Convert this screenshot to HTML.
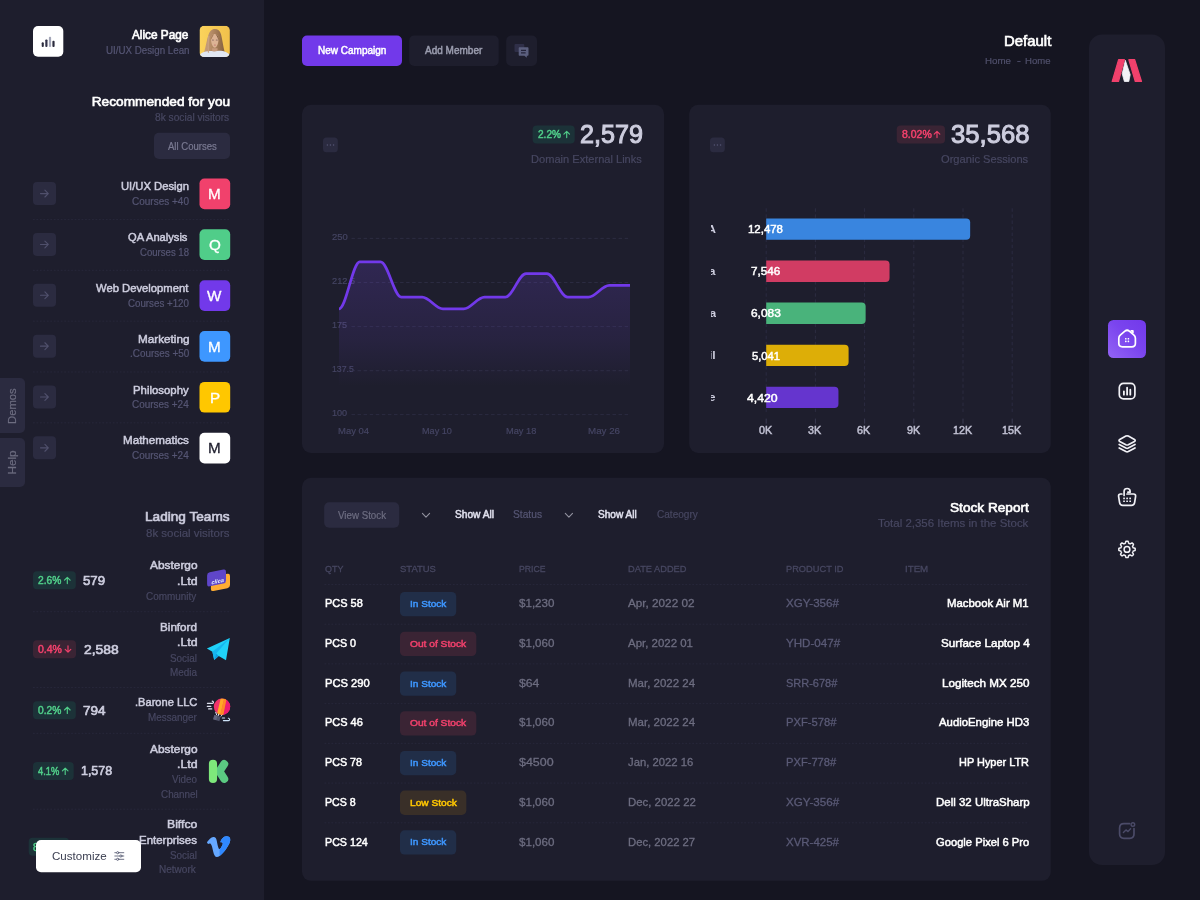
<!DOCTYPE html>
<html lang="en" dir="ltr">
<head>
<meta charset="utf-8">
<title>Dashboard</title>
<style>
html,body{margin:0;padding:0}
body{width:1200px;height:900px;background:#151521;position:relative;overflow:hidden;font-family:"Liberation Sans",sans-serif;}
.t{position:absolute;white-space:nowrap;line-height:1;transform-origin:0 50%;}
.a{position:absolute;}
svg{position:absolute;overflow:visible}
svg.f{left:0;top:0;pointer-events:none}
.sep{position:absolute;height:0;border-top:1px dashed #2b2b40;}
</style>
</head>
<body>

<main id="content">
<header id="toolbar">
<svg class="f" width="1200" height="900" viewBox="0 0 1200 900"><rect x="302" y="35.6" width="100" height="30.4" rx="5" fill="#7239ea"/></svg>
<div class="t" style="left:317.50px;top:44px;line-height:12px;font-size:10.5px;color:#ffffff;transform:scaleX(0.9521);-webkit-text-stroke:0.5px;">New Campaign</div>
<svg class="f" width="1200" height="900" viewBox="0 0 1200 900"><rect x="409.2" y="35.6" width="89.5" height="30.4" rx="5" fill="#1e1e2d"/></svg>
<div class="t" style="left:425.00px;top:44px;line-height:12px;font-size:10.5px;color:#9a9cae;transform:scaleX(0.9536);-webkit-text-stroke:0.5px;">Add Member</div>
<svg class="f" width="1200" height="900" viewBox="0 0 1200 900"><rect x="506.2" y="35.6" width="30.8" height="30.4" rx="5" fill="#1e1e2d"/><g transform="translate(514 43.2)"><rect x="0.5" y="0.8" width="9.8" height="8" rx="1" fill="#2f2f48"/><path d="M5.7 4.1H13.5C14.1 4.1 14.5 4.5 14.5 5.1V11.5C14.5 12.1 14.1 12.5 13.5 12.5H12.8V14.6L10.4 12.5H5.7C5.1 12.5 4.7 12.1 4.7 11.5V5.1C4.7 4.5 5.1 4.1 5.7 4.1Z" fill="#5b5f7e"/><path d="M7 7.1H12M7 9.7H11.6" stroke="#24243a" stroke-width="1.25" stroke-linecap="butt"/></g></svg>
<div class="t" style="left:1003.88px;top:33px;line-height:16px;font-size:14.6px;color:#ffffff;transform:scaleX(1.0225);-webkit-text-stroke:0.65px;">Default</div>
<div class="t" style="left:984.80px;top:55px;line-height:11px;font-size:9.9px;color:#50506c;transform:scaleX(0.9833);-webkit-text-stroke:0.2px;">Home</div>
<div class="t" style="left:1016.50px;top:55px;line-height:11px;font-size:9.9px;color:#50506c;transform:scaleX(1.1667);-webkit-text-stroke:0.2px;">-</div>
<div class="t" style="left:1025.00px;top:55px;line-height:11px;font-size:9.9px;color:#50506c;transform:scaleX(0.9684);-webkit-text-stroke:0.2px;">Home</div>
</header>
<section id="card-links">
<svg class="f" width="1200" height="900" viewBox="0 0 1200 900"><rect x="302" y="104.8" width="362" height="348.2" rx="9" fill="#1e1e2d"/><rect x="323" y="137.5" width="14.8" height="14.8" rx="3.5" fill="#2b2b40"/><rect x="326.6" y="144.2" width="1.5" height="1.5" rx="1" fill="#565674"/><rect x="329.7" y="144.2" width="1.5" height="1.5" rx="1" fill="#565674"/><rect x="332.8" y="144.2" width="1.5" height="1.5" rx="1" fill="#565674"/><rect x="532.6" y="125.5" width="42.1" height="18" rx="4" fill="#1c3238"/></svg>
<div class="t" style="left:537.50px;top:129px;line-height:11px;font-size:10.4px;color:#50cd89;transform:scaleX(0.9682);-webkit-text-stroke:0.5px;">2.2%</div>
<svg class="f" width="1200" height="900" viewBox="0 0 1200 900"><g transform="translate(563.2 130.5)"><g ><path d="M3.5 7.1V0.9M0.7 3.6L3.5 0.8L6.3 3.6" fill="none" stroke="#50cd89" stroke-width="1.15" stroke-linecap="round" stroke-linejoin="round"/></g></g></svg>
<div class="t" style="left:579.84px;top:119px;line-height:30px;font-size:26.2px;color:#cdcdde;transform:scaleX(0.9598);-webkit-text-stroke:1.05px;">2,579</div>
<div class="t" style="left:530.50px;top:153px;line-height:12px;font-size:11.31px;color:#474761;transform:scaleX(0.9809);-webkit-text-stroke:0.2px;">Domain External Links</div>
<div class="t" style="left:331.80px;top:231px;line-height:11px;font-size:9.7px;color:#454563;transform:scaleX(0.9776);-webkit-text-stroke:0.2px;">250</div>
<div class="t" style="left:331.80px;top:275px;line-height:11px;font-size:9.7px;color:#454563;transform:scaleX(0.9516);-webkit-text-stroke:0.2px;">212.5</div>
<div class="t" style="left:331.80px;top:319px;line-height:11px;font-size:9.7px;color:#454563;transform:scaleX(0.9318);-webkit-text-stroke:0.2px;">175</div>
<div class="t" style="left:331.80px;top:363px;line-height:11px;font-size:9.7px;color:#454563;transform:scaleX(0.9013);-webkit-text-stroke:0.2px;">137.5</div>
<div class="t" style="left:331.80px;top:407px;line-height:11px;font-size:9.7px;color:#454563;transform:scaleX(0.9359);-webkit-text-stroke:0.2px;">100</div>
<svg class="f" width="1200" height="900" viewBox="0 0 1200 900"><defs><linearGradient id="g1" x1="0" y1="262" x2="0" y2="414" gradientUnits="userSpaceOnUse"><stop offset="0" stop-color="#7c4df0" stop-opacity="0.19"/><stop offset="0.5" stop-color="#7c4df0" stop-opacity="0.10"/><stop offset="0.82" stop-color="#7c4df0" stop-opacity="0"/></linearGradient></defs><line x1="351.5" y1="238.4" x2="630" y2="238.4" stroke="#2f2f47" stroke-width="0.87" stroke-opacity="0.9" stroke-dasharray="3.47 2.6"/><line x1="351.5" y1="282.5" x2="630" y2="282.5" stroke="#2f2f47" stroke-width="0.87" stroke-opacity="0.9" stroke-dasharray="3.47 2.6"/><line x1="351.5" y1="326.6" x2="630" y2="326.6" stroke="#2f2f47" stroke-width="0.87" stroke-opacity="0.9" stroke-dasharray="3.47 2.6"/><line x1="351.5" y1="370.7" x2="630" y2="370.7" stroke="#2f2f47" stroke-width="0.87" stroke-opacity="0.9" stroke-dasharray="3.47 2.6"/><line x1="351.5" y1="414.6" x2="630" y2="414.6" stroke="#2f2f47" stroke-width="0.87" stroke-opacity="0.9" stroke-dasharray="3.47 2.6"/><path d="M339.00 308.88C346.27 308.88 352.51 261.89 359.79 261.89C367.06 261.89 373.30 261.89 380.57 261.89C387.85 261.89 394.08 297.13 401.36 297.13C408.63 297.13 414.87 297.13 422.14 297.13C429.42 297.13 435.65 308.88 442.93 308.88C450.20 308.88 456.44 308.88 463.71 308.88C470.99 308.88 477.23 297.13 484.50 297.13C491.77 297.13 498.01 297.13 505.29 297.13C512.56 297.13 518.80 273.64 526.07 273.64C533.35 273.64 539.58 273.64 546.86 273.64C554.13 273.64 560.37 297.13 567.64 297.13C574.92 297.13 581.15 297.13 588.43 297.13C595.70 297.13 601.94 285.39 609.21 285.39C616.49 285.39 622.73 285.39 630.00 285.39L630.00 414.6L339.00 414.6Z" fill="url(#g1)"/><path d="M339.00 308.88C346.27 308.88 352.51 261.89 359.79 261.89C367.06 261.89 373.30 261.89 380.57 261.89C387.85 261.89 394.08 297.13 401.36 297.13C408.63 297.13 414.87 297.13 422.14 297.13C429.42 297.13 435.65 308.88 442.93 308.88C450.20 308.88 456.44 308.88 463.71 308.88C470.99 308.88 477.23 297.13 484.50 297.13C491.77 297.13 498.01 297.13 505.29 297.13C512.56 297.13 518.80 273.64 526.07 273.64C533.35 273.64 539.58 273.64 546.86 273.64C554.13 273.64 560.37 297.13 567.64 297.13C574.92 297.13 581.15 297.13 588.43 297.13C595.70 297.13 601.94 285.39 609.21 285.39C616.49 285.39 622.73 285.39 630.00 285.39" fill="none" stroke="#7239ea" stroke-width="2.7" stroke-linecap="butt"/></svg>
<div class="t" style="left:338.30px;top:425px;line-height:11px;font-size:9.7px;color:#454563;transform:scaleX(0.9790);-webkit-text-stroke:0.2px;">May 04</div>
<div class="t" style="left:422.30px;top:425px;line-height:11px;font-size:9.7px;color:#454563;transform:scaleX(0.9388);-webkit-text-stroke:0.2px;">May 10</div>
<div class="t" style="left:505.70px;top:425px;line-height:11px;font-size:9.7px;color:#454563;transform:scaleX(0.9560);-webkit-text-stroke:0.2px;">May 18</div>
<div class="t" style="left:587.70px;top:425px;line-height:11px;font-size:9.7px;color:#454563;transform:scaleX(1.0070);-webkit-text-stroke:0.2px;">May 26</div>
</section>
<section id="card-sessions">
<svg class="f" width="1200" height="900" viewBox="0 0 1200 900"><rect x="689.2" y="104.8" width="361.6" height="348.2" rx="9" fill="#1e1e2d"/><rect x="710" y="137.5" width="14.8" height="14.8" rx="3.5" fill="#2b2b40"/><rect x="713.6" y="144.2" width="1.5" height="1.5" rx="1" fill="#565674"/><rect x="716.7" y="144.2" width="1.5" height="1.5" rx="1" fill="#565674"/><rect x="719.8" y="144.2" width="1.5" height="1.5" rx="1" fill="#565674"/><rect x="896.7" y="125.5" width="48.3" height="18" rx="4" fill="#3a2434"/></svg>
<div class="t" style="left:901.70px;top:129px;line-height:11px;font-size:10.4px;color:#f1416c;transform:scaleX(1.0095);-webkit-text-stroke:0.5px;">8.02%</div>
<svg class="f" width="1200" height="900" viewBox="0 0 1200 900"><g transform="translate(933.5 130.5)"><g ><path d="M3.5 7.1V0.9M0.7 3.6L3.5 0.8L6.3 3.6" fill="none" stroke="#f1416c" stroke-width="1.15" stroke-linecap="round" stroke-linejoin="round"/></g></g></svg>
<div class="t" style="left:950.62px;top:119px;line-height:30px;font-size:26.2px;color:#cdcdde;transform:scaleX(0.9805);-webkit-text-stroke:1.05px;">35,568</div>
<div class="t" style="left:941.30px;top:153px;line-height:12px;font-size:11.31px;color:#474761;transform:scaleX(0.9844);-webkit-text-stroke:0.2px;">Organic Sessions</div>
<svg class="f" width="1200" height="900" viewBox="0 0 1200 900"><line x1="766.2" y1="208.3" x2="766.2" y2="414.5" stroke="#2f2f47" stroke-width="0.87" stroke-opacity="0.9" stroke-dasharray="3.47 2.6"/><line x1="766.2" y1="418.6" x2="766.2" y2="423.7" stroke="#3a3a52" stroke-width="1"/><line x1="815.4" y1="208.3" x2="815.4" y2="414.5" stroke="#2f2f47" stroke-width="0.87" stroke-opacity="0.9" stroke-dasharray="3.47 2.6"/><line x1="815.4" y1="418.6" x2="815.4" y2="423.7" stroke="#3a3a52" stroke-width="1"/><line x1="864.6" y1="208.3" x2="864.6" y2="414.5" stroke="#2f2f47" stroke-width="0.87" stroke-opacity="0.9" stroke-dasharray="3.47 2.6"/><line x1="864.6" y1="418.6" x2="864.6" y2="423.7" stroke="#3a3a52" stroke-width="1"/><line x1="913.8" y1="208.3" x2="913.8" y2="414.5" stroke="#2f2f47" stroke-width="0.87" stroke-opacity="0.9" stroke-dasharray="3.47 2.6"/><line x1="913.8" y1="418.6" x2="913.8" y2="423.7" stroke="#3a3a52" stroke-width="1"/><line x1="963.0" y1="208.3" x2="963.0" y2="414.5" stroke="#2f2f47" stroke-width="0.87" stroke-opacity="0.9" stroke-dasharray="3.47 2.6"/><line x1="963.0" y1="418.6" x2="963.0" y2="423.7" stroke="#3a3a52" stroke-width="1"/><line x1="1012.2" y1="208.3" x2="1012.2" y2="414.5" stroke="#2f2f47" stroke-width="0.87" stroke-opacity="0.9" stroke-dasharray="3.47 2.6"/><line x1="1012.2" y1="418.6" x2="1012.2" y2="423.7" stroke="#3a3a52" stroke-width="1"/><path d="M766.2 218.40h199.97a4 4 0 0 1 4 4v13.40a4 4 0 0 1 -4 4h-199.97z" fill="#3985df"/><path d="M766.2 260.48h119.35a4 4 0 0 1 4 4v13.40a4 4 0 0 1 -4 4h-119.35z" fill="#d13c63"/><path d="M766.2 302.56h95.44a4 4 0 0 1 4 4v13.40a4 4 0 0 1 -4 4h-95.44z" fill="#49b37b"/><path d="M766.2 344.64h78.40a4 4 0 0 1 4 4v13.40a4 4 0 0 1 -4 4h-78.40z" fill="#ddae07"/><path d="M766.2 386.72h68.25a4 4 0 0 1 4 4v13.40a4 4 0 0 1 -4 4h-68.25z" fill="#6535ce"/></svg>
<div class="t" style="left:748.30px;top:223px;line-height:12px;font-size:11.6px;color:#ffffff;transform:scaleX(0.9854);-webkit-text-stroke:0.5px;">12,478</div>
<div class="a" style="left:710.5px;top:221.4px;width:5.6px;height:16px;overflow:hidden"><div class="t" style="right:0.3px;top:2.5px;font-size:11.4px;font-weight:700;color:#cdcdde;transform-origin:100% 50%;transform:scaleX(1.06)">USA</div></div>
<div class="t" style="left:751.00px;top:265px;line-height:12px;font-size:11.6px;color:#ffffff;transform:scaleX(1.0047);-webkit-text-stroke:0.5px;">7,546</div>
<div class="a" style="left:710.5px;top:263.5px;width:5.6px;height:16px;overflow:hidden"><div class="t" style="right:0.3px;top:2.5px;font-size:11.4px;font-weight:700;color:#cdcdde;transform-origin:100% 50%;transform:scaleX(1.06)">India</div></div>
<div class="t" style="left:750.70px;top:307px;line-height:12px;font-size:11.6px;color:#ffffff;transform:scaleX(1.0257);-webkit-text-stroke:0.5px;">6,083</div>
<div class="a" style="left:710.5px;top:305.6px;width:5.6px;height:16px;overflow:hidden"><div class="t" style="right:0.3px;top:2.5px;font-size:11.4px;font-weight:700;color:#cdcdde;transform-origin:100% 50%;transform:scaleX(1.06)">Canada</div></div>
<div class="t" style="left:751.70px;top:350px;line-height:12px;font-size:11.6px;color:#ffffff;transform:scaleX(0.9662);-webkit-text-stroke:0.5px;">5,041</div>
<div class="a" style="left:710.5px;top:347.6px;width:5.6px;height:16px;overflow:hidden"><div class="t" style="right:0.3px;top:2.5px;font-size:11.4px;font-weight:700;color:#cdcdde;transform-origin:100% 50%;transform:scaleX(1.06)">Brasil</div></div>
<div class="t" style="left:747.10px;top:392px;line-height:12px;font-size:11.6px;color:#ffffff;transform:scaleX(1.0572);-webkit-text-stroke:0.5px;">4,420</div>
<div class="a" style="left:710.5px;top:389.7px;width:5.6px;height:16px;overflow:hidden"><div class="t" style="right:0.3px;top:2.5px;font-size:11.4px;font-weight:700;color:#cdcdde;transform-origin:100% 50%;transform:scaleX(1.06)">France</div></div>
<div class="t" style="left:759.07px;top:424px;line-height:12px;font-size:11.2px;color:#c0c0d2;transform:scaleX(0.9600);-webkit-text-stroke:0.5px;">0K</div>
<div class="t" style="left:808.27px;top:424px;line-height:12px;font-size:11.2px;color:#c0c0d2;transform:scaleX(0.9600);-webkit-text-stroke:0.5px;">3K</div>
<div class="t" style="left:857.47px;top:424px;line-height:12px;font-size:11.2px;color:#c0c0d2;transform:scaleX(0.9600);-webkit-text-stroke:0.5px;">6K</div>
<div class="t" style="left:906.67px;top:424px;line-height:12px;font-size:11.2px;color:#c0c0d2;transform:scaleX(0.9600);-webkit-text-stroke:0.5px;">9K</div>
<div class="t" style="left:952.89px;top:424px;line-height:12px;font-size:11.2px;color:#c0c0d2;transform:scaleX(0.9600);-webkit-text-stroke:0.5px;">12K</div>
<div class="t" style="left:1002.09px;top:424px;line-height:12px;font-size:11.2px;color:#c0c0d2;transform:scaleX(0.9600);-webkit-text-stroke:0.5px;">15K</div>
</section>
<section id="card-stock">
<svg class="f" width="1200" height="900" viewBox="0 0 1200 900"><rect x="302" y="477.8" width="748.8" height="403" rx="9" fill="#1e1e2d"/><rect x="324.2" y="502.2" width="75" height="25.6" rx="5" fill="#2b2b40"/></svg>
<div class="t" style="left:337.50px;top:510px;line-height:11px;font-size:10.4px;color:#6d6d80;transform:scaleX(0.9382);-webkit-text-stroke:0.2px;">View Stock</div>
<svg class="f" width="1200" height="900" viewBox="0 0 1200 900"><g transform="translate(421.8 512.6)"><path d="M0.6 0.8L4.2 4.5L7.8 0.8" fill="none" stroke="#92929f" stroke-width="1.1" stroke-linecap="round" stroke-linejoin="round"/></g></svg>
<div class="t" style="left:454.70px;top:509px;line-height:11px;font-size:10.4px;color:#e1e1ee;transform:scaleX(0.9771);-webkit-text-stroke:0.5px;">Show All</div>
<div class="t" style="left:513.30px;top:509px;line-height:11px;font-size:10.4px;color:#565674;transform:scaleX(0.9842);-webkit-text-stroke:0.2px;">Status</div>
<svg class="f" width="1200" height="900" viewBox="0 0 1200 900"><g transform="translate(564.7 512.6)"><path d="M0.6 0.8L4.2 4.5L7.8 0.8" fill="none" stroke="#92929f" stroke-width="1.1" stroke-linecap="round" stroke-linejoin="round"/></g></svg>
<div class="t" style="left:597.90px;top:509px;line-height:11px;font-size:10.4px;color:#e1e1ee;transform:scaleX(0.9696);-webkit-text-stroke:0.5px;">Show All</div>
<div class="t" style="left:656.50px;top:509px;line-height:11px;font-size:10.4px;color:#474761;transform:scaleX(0.9682);-webkit-text-stroke:0.2px;">Cateogry</div>
<div class="t" style="left:950.00px;top:500px;line-height:15px;font-size:13.7px;color:#ffffff;transform:scaleX(0.9960);-webkit-text-stroke:0.65px;">Stock Report</div>
<div class="t" style="left:878.30px;top:517px;line-height:12px;font-size:11.31px;color:#474761;transform:scaleX(1.0145);-webkit-text-stroke:0.2px;">Total 2,356 Items in the Stock</div>
<div class="t" style="left:324.50px;top:563px;line-height:11px;font-size:9.9px;color:#474761;transform:scaleX(0.9076);-webkit-text-stroke:0.3px;">QTY</div>
<div class="t" style="left:400.00px;top:563px;line-height:11px;font-size:9.9px;color:#474761;transform:scaleX(0.9578);-webkit-text-stroke:0.3px;">STATUS</div>
<div class="t" style="left:518.90px;top:563px;line-height:11px;font-size:9.9px;color:#474761;transform:scaleX(0.8793);-webkit-text-stroke:0.3px;">PRICE</div>
<div class="t" style="left:627.80px;top:563px;line-height:11px;font-size:9.9px;color:#474761;transform:scaleX(0.9366);-webkit-text-stroke:0.3px;">DATE ADDED</div>
<div class="t" style="left:786.30px;top:563px;line-height:11px;font-size:9.9px;color:#474761;transform:scaleX(0.9378);-webkit-text-stroke:0.3px;">PRODUCT ID</div>
<div class="t" style="left:904.50px;top:563px;line-height:11px;font-size:9.9px;color:#474761;transform:scaleX(0.9845);-webkit-text-stroke:0.3px;">ITEM</div>
<svg class="f" width="1200" height="900" viewBox="0 0 1200 900"><line x1="324.5" y1="584.5" x2="1029" y2="584.5" stroke="#2b2b40" stroke-width="0.9" stroke-opacity="0.75" stroke-dasharray="1.75 1.72"/></svg>
<div class="t" style="left:324.50px;top:597px;line-height:12px;font-size:11.31px;color:#ffffff;transform:scaleX(0.9703);-webkit-text-stroke:0.5px;">PCS 58</div>
<svg class="f" width="1200" height="900" viewBox="0 0 1200 900"><rect x="400" y="592" width="56.2" height="24.3" rx="4.5" fill="#212e48"/></svg>
<div class="t" style="left:409.70px;top:598px;line-height:11px;font-size:9.7px;color:#3e97ff;transform:scaleX(1.0383);-webkit-text-stroke:0.5px;">In Stock</div>
<div class="t" style="left:518.90px;top:597px;line-height:12px;font-size:11.2px;color:#6d6d80;transform:scaleX(1.0354);-webkit-text-stroke:0.3px;">$1,230</div>
<div class="t" style="left:627.80px;top:597px;line-height:12px;font-size:11.2px;color:#6d6d80;transform:scaleX(1.0470);-webkit-text-stroke:0.3px;">Apr, 2022 02</div>
<div class="t" style="left:786.30px;top:597px;line-height:12px;font-size:11.2px;color:#5a5a76;transform:scaleX(1.0329);-webkit-text-stroke:0.3px;">XGY-356#</div>
<div class="t" style="left:947.00px;top:597px;line-height:12px;font-size:11.31px;color:#ffffff;transform:scaleX(1.0082);-webkit-text-stroke:0.5px;">Macbook Air M1</div>
<svg class="f" width="1200" height="900" viewBox="0 0 1200 900"><line x1="324.5" y1="624.2" x2="1029" y2="624.2" stroke="#2b2b40" stroke-width="0.9" stroke-opacity="0.75" stroke-dasharray="1.75 1.72"/></svg>
<div class="t" style="left:324.50px;top:637px;line-height:12px;font-size:11.31px;color:#ffffff;transform:scaleX(0.9516);-webkit-text-stroke:0.5px;">PCS 0</div>
<svg class="f" width="1200" height="900" viewBox="0 0 1200 900"><rect x="400" y="631.72" width="76.3" height="24.3" rx="4.5" fill="#3a2434"/></svg>
<div class="t" style="left:410.00px;top:638px;line-height:11px;font-size:9.7px;color:#f1416c;transform:scaleX(1.0531);-webkit-text-stroke:0.5px;">Out of Stock</div>
<div class="t" style="left:518.90px;top:637px;line-height:12px;font-size:11.2px;color:#6d6d80;transform:scaleX(1.0354);-webkit-text-stroke:0.3px;">$1,060</div>
<div class="t" style="left:627.80px;top:637px;line-height:12px;font-size:11.2px;color:#6d6d80;transform:scaleX(1.0233);-webkit-text-stroke:0.3px;">Apr, 2022 01</div>
<div class="t" style="left:786.30px;top:637px;line-height:12px;font-size:11.2px;color:#5a5a76;transform:scaleX(1.0375);-webkit-text-stroke:0.3px;">YHD-047#</div>
<div class="t" style="left:940.50px;top:637px;line-height:12px;font-size:11.31px;color:#ffffff;transform:scaleX(1.0319);-webkit-text-stroke:0.5px;">Surface Laptop 4</div>
<svg class="f" width="1200" height="900" viewBox="0 0 1200 900"><line x1="324.5" y1="663.92" x2="1029" y2="663.92" stroke="#2b2b40" stroke-width="0.9" stroke-opacity="0.75" stroke-dasharray="1.75 1.72"/></svg>
<div class="t" style="left:324.50px;top:677px;line-height:12px;font-size:11.31px;color:#ffffff;transform:scaleX(0.9904);-webkit-text-stroke:0.5px;">PCS 290</div>
<svg class="f" width="1200" height="900" viewBox="0 0 1200 900"><rect x="400" y="671.44" width="56.2" height="24.3" rx="4.5" fill="#212e48"/></svg>
<div class="t" style="left:409.70px;top:678px;line-height:11px;font-size:9.7px;color:#3e97ff;transform:scaleX(1.0383);-webkit-text-stroke:0.5px;">In Stock</div>
<div class="t" style="left:518.90px;top:677px;line-height:12px;font-size:11.2px;color:#6d6d80;transform:scaleX(1.0898);-webkit-text-stroke:0.3px;">$64</div>
<div class="t" style="left:627.80px;top:677px;line-height:12px;font-size:11.2px;color:#6d6d80;transform:scaleX(1.0279);-webkit-text-stroke:0.3px;">Mar, 2022 24</div>
<div class="t" style="left:786.30px;top:677px;line-height:12px;font-size:11.2px;color:#5a5a76;transform:scaleX(0.9809);-webkit-text-stroke:0.3px;">SRR-678#</div>
<div class="t" style="left:941.80px;top:677px;line-height:12px;font-size:11.31px;color:#ffffff;transform:scaleX(1.0320);-webkit-text-stroke:0.5px;">Logitech MX 250</div>
<svg class="f" width="1200" height="900" viewBox="0 0 1200 900"><line x1="324.5" y1="703.64" x2="1029" y2="703.64" stroke="#2b2b40" stroke-width="0.9" stroke-opacity="0.75" stroke-dasharray="1.75 1.72"/></svg>
<div class="t" style="left:324.50px;top:716px;line-height:12px;font-size:11.31px;color:#ffffff;transform:scaleX(0.9703);-webkit-text-stroke:0.5px;">PCS 46</div>
<svg class="f" width="1200" height="900" viewBox="0 0 1200 900"><rect x="400" y="711.16" width="76.3" height="24.3" rx="4.5" fill="#3a2434"/></svg>
<div class="t" style="left:410.00px;top:717px;line-height:11px;font-size:9.7px;color:#f1416c;transform:scaleX(1.0531);-webkit-text-stroke:0.5px;">Out of Stock</div>
<div class="t" style="left:518.90px;top:716px;line-height:12px;font-size:11.2px;color:#6d6d80;transform:scaleX(1.0354);-webkit-text-stroke:0.3px;">$1,060</div>
<div class="t" style="left:627.80px;top:716px;line-height:12px;font-size:11.2px;color:#6d6d80;transform:scaleX(1.0279);-webkit-text-stroke:0.3px;">Mar, 2022 24</div>
<div class="t" style="left:786.30px;top:716px;line-height:12px;font-size:11.2px;color:#5a5a76;transform:scaleX(1.0030);-webkit-text-stroke:0.3px;">PXF-578#</div>
<div class="t" style="left:939.00px;top:716px;line-height:12px;font-size:11.31px;color:#ffffff;transform:scaleX(1.0053);-webkit-text-stroke:0.5px;">AudioEngine HD3</div>
<svg class="f" width="1200" height="900" viewBox="0 0 1200 900"><line x1="324.5" y1="743.36" x2="1029" y2="743.36" stroke="#2b2b40" stroke-width="0.9" stroke-opacity="0.75" stroke-dasharray="1.75 1.72"/></svg>
<div class="t" style="left:324.50px;top:756px;line-height:12px;font-size:11.31px;color:#ffffff;transform:scaleX(0.9521);-webkit-text-stroke:0.5px;">PCS 78</div>
<svg class="f" width="1200" height="900" viewBox="0 0 1200 900"><rect x="400" y="750.88" width="56.2" height="24.3" rx="4.5" fill="#212e48"/></svg>
<div class="t" style="left:409.70px;top:757px;line-height:11px;font-size:9.7px;color:#3e97ff;transform:scaleX(1.0383);-webkit-text-stroke:0.5px;">In Stock</div>
<div class="t" style="left:518.90px;top:756px;line-height:12px;font-size:11.2px;color:#6d6d80;transform:scaleX(1.1137);-webkit-text-stroke:0.3px;">$4500</div>
<div class="t" style="left:627.80px;top:756px;line-height:12px;font-size:11.2px;color:#6d6d80;transform:scaleX(1.0082);-webkit-text-stroke:0.3px;">Jan, 2022 16</div>
<div class="t" style="left:786.30px;top:756px;line-height:12px;font-size:11.2px;color:#5a5a76;transform:scaleX(0.9971);-webkit-text-stroke:0.3px;">PXF-778#</div>
<div class="t" style="left:959.00px;top:756px;line-height:12px;font-size:11.31px;color:#ffffff;transform:scaleX(0.9662);-webkit-text-stroke:0.5px;">HP Hyper LTR</div>
<svg class="f" width="1200" height="900" viewBox="0 0 1200 900"><line x1="324.5" y1="783.08" x2="1029" y2="783.08" stroke="#2b2b40" stroke-width="0.9" stroke-opacity="0.75" stroke-dasharray="1.75 1.72"/></svg>
<div class="t" style="left:324.50px;top:796px;line-height:12px;font-size:11.31px;color:#ffffff;transform:scaleX(0.9423);-webkit-text-stroke:0.5px;">PCS 8</div>
<svg class="f" width="1200" height="900" viewBox="0 0 1200 900"><rect x="400" y="790.6" width="66.3" height="24.3" rx="4.5" fill="#392f28"/></svg>
<div class="t" style="left:410.00px;top:797px;line-height:11px;font-size:9.7px;color:#ffc700;transform:scaleX(1.0480);-webkit-text-stroke:0.5px;">Low Stock</div>
<div class="t" style="left:518.90px;top:796px;line-height:12px;font-size:11.2px;color:#6d6d80;transform:scaleX(1.0354);-webkit-text-stroke:0.3px;">$1,060</div>
<div class="t" style="left:627.80px;top:796px;line-height:12px;font-size:11.2px;color:#6d6d80;transform:scaleX(1.0192);-webkit-text-stroke:0.3px;">Dec, 2022 22</div>
<div class="t" style="left:786.30px;top:796px;line-height:12px;font-size:11.2px;color:#5a5a76;transform:scaleX(1.0387);-webkit-text-stroke:0.3px;">XGY-356#</div>
<div class="t" style="left:935.60px;top:796px;line-height:12px;font-size:11.31px;color:#ffffff;transform:scaleX(1.0150);-webkit-text-stroke:0.5px;">Dell 32 UltraSharp</div>
<svg class="f" width="1200" height="900" viewBox="0 0 1200 900"><line x1="324.5" y1="822.8" x2="1029" y2="822.8" stroke="#2b2b40" stroke-width="0.9" stroke-opacity="0.75" stroke-dasharray="1.75 1.72"/></svg>
<div class="t" style="left:324.50px;top:836px;line-height:12px;font-size:11.31px;color:#ffffff;transform:scaleX(0.9459);-webkit-text-stroke:0.5px;">PCS 124</div>
<svg class="f" width="1200" height="900" viewBox="0 0 1200 900"><rect x="400" y="830.32" width="56.2" height="24.3" rx="4.5" fill="#212e48"/></svg>
<div class="t" style="left:409.70px;top:836px;line-height:11px;font-size:9.7px;color:#3e97ff;transform:scaleX(1.0383);-webkit-text-stroke:0.5px;">In Stock</div>
<div class="t" style="left:518.90px;top:836px;line-height:12px;font-size:11.2px;color:#6d6d80;transform:scaleX(1.0354);-webkit-text-stroke:0.3px;">$1,060</div>
<div class="t" style="left:627.80px;top:836px;line-height:12px;font-size:11.2px;color:#6d6d80;transform:scaleX(1.0086);-webkit-text-stroke:0.3px;">Dec, 2022 27</div>
<div class="t" style="left:786.30px;top:836px;line-height:12px;font-size:11.2px;color:#5a5a76;transform:scaleX(1.0249);-webkit-text-stroke:0.3px;">XVR-425#</div>
<div class="t" style="left:936.00px;top:836px;line-height:12px;font-size:11.31px;color:#ffffff;transform:scaleX(0.9903);-webkit-text-stroke:0.5px;">Google Pixel 6 Pro</div>
</section>
</main>
<nav id="aside-menu">
<svg class="f" width="1200" height="900" viewBox="0 0 1200 900"><rect x="1089" y="34.6" width="76" height="830.4" rx="13" fill="#1e1e2d"/><g transform="translate(1111.3 59.1)"><g stroke-linejoin="round" stroke-width="1.2"><path d="M14.0 1.2L18.9 15.6L17.5 22.4H13.1L10.9 14.6Z" fill="#f3f3f7" stroke="#f3f3f7" stroke-width="0.8"/><path d="M7.3 0.6H13.1L7.2 22.4H0.9Z" fill="#f1416c" stroke="#f1416c"/><path d="M17.5 0.6H23.4L30.2 22.4H24Z" fill="#f1416c" stroke="#f1416c"/></g></g></svg>
<div class="a" style="left:1107.6px;top:320px;width:38.7px;height:38.4px;border-radius:5.5px;background:linear-gradient(225deg,#7239ea 0%,#7a44ee 45%,#9364f5 100%)"></div>
<svg class="f" width="1200" height="900" viewBox="0 0 1200 900"><g transform="translate(1117.6 329)"><path d="M1.2 9.2C1.2 7.6 1.8 6.8 2.9 5.9L7.3 2.2C8.7 1 10.3 1 11.7 2.2L16.1 5.9C17.2 6.8 17.8 7.6 17.8 9.2V14.2C17.8 16.6 16.6 17.8 14.2 17.8H4.8C2.4 17.8 1.2 16.6 1.2 14.2Z" fill="none" stroke="#ffffff" stroke-width="1.7" stroke-linecap="round" stroke-linejoin="round"/><path d="M13.6 1.9H15.3V3.6" fill="none" stroke="#ffffff" stroke-width="1.7" stroke-linecap="round" stroke-linejoin="round" /><g fill="#fff"><rect x="7.4" y="9" width="1.6" height="1.6" rx="0.4"/><rect x="10" y="9" width="1.6" height="1.6" rx="0.4"/><rect x="7.4" y="11.6" width="1.6" height="1.6" rx="0.4"/><rect x="10" y="11.6" width="1.6" height="1.6" rx="0.4"/></g></g><g transform="translate(1118.4 382.4)"><rect x="0.9" y="0.9" width="15.6" height="15.6" rx="4.2" fill="none" stroke="#f1f1f6" stroke-width="1.7" stroke-linecap="round" stroke-linejoin="round"/><path d="M5.5 12.3V8.9M8.7 12.3V5.2M11.9 12.3V7.3" fill="none" stroke="#f1f1f6" stroke-width="1.8" stroke-linecap="round"/></g><g transform="translate(1117.6 434.8)"><path d="M8.3 1.3C9.1 0.9 9.9 0.9 10.7 1.3L16.9 4.6C17.8 5.1 17.8 6.1 16.9 6.6L10.7 9.9C9.9 10.3 9.1 10.3 8.3 9.9L2.1 6.6C1.2 6.1 1.2 5.1 2.1 4.6Z" fill="none" stroke="#f1f1f6" stroke-width="1.7" stroke-linecap="round" stroke-linejoin="round"/><path d="M1.6 9.6L8.3 13.2C9.1 13.6 9.9 13.6 10.7 13.2L17.4 9.6" fill="none" stroke="#f1f1f6" stroke-width="1.7" stroke-linecap="round" stroke-linejoin="round"/><path d="M1.6 13.2L8.3 16.8C9.1 17.2 9.9 17.2 10.7 16.8L17.4 13.2" fill="none" stroke="#f1f1f6" stroke-width="1.7" stroke-linecap="round" stroke-linejoin="round"/></g><g transform="translate(1117.6 487.6)"><path d="M4.3 6.4H3C1.6 6.4 0.8 7.3 1 8.7L2 15C2.3 16.8 3.3 17.7 5.1 17.7H13.9C15.7 17.7 16.7 16.8 17 15L18 8.7C18.2 7.3 17.4 6.4 16 6.4H9.4" fill="none" stroke="#f1f1f6" stroke-width="1.7" stroke-linecap="round" stroke-linejoin="round"/><path d="M6.5 7.8V3.6C6.5 2 7.7 0.9 9.5 0.9C11.3 0.9 12.5 2 12.5 3.6V4.6H10.3" fill="none" stroke="#f1f1f6" stroke-width="1.7" stroke-linecap="round" stroke-linejoin="round"/><g fill="#f1f1f6"><rect x="5.6" y="10" width="1.7" height="1.6" rx="0.3"/><rect x="8.65" y="10" width="1.7" height="1.6" rx="0.3"/><rect x="11.7" y="10" width="1.7" height="1.6" rx="0.3"/><rect x="5.6" y="12.9" width="1.7" height="1.6" rx="0.3"/><rect x="8.65" y="12.9" width="1.7" height="1.6" rx="0.3"/><rect x="11.7" y="12.9" width="1.7" height="1.6" rx="0.3"/></g></g><g transform="translate(1118 540.4)"><path d="M9.00 0.80L9.32 0.81L9.64 0.83L9.96 0.86L10.23 1.23L10.41 1.89L10.55 2.55L10.71 2.94L10.95 3.01L11.18 3.09L11.41 3.18L11.64 3.28L11.86 3.39L12.08 3.50L12.46 3.35L13.03 2.97L13.63 2.63L14.08 2.56L14.33 2.76L14.57 2.98L14.80 3.20L15.02 3.43L15.24 3.67L15.44 3.92L15.37 4.37L15.03 4.97L14.65 5.54L14.50 5.92L14.61 6.14L14.72 6.36L14.82 6.59L14.91 6.82L14.99 7.05L15.06 7.29L15.45 7.45L16.11 7.59L16.77 7.77L17.14 8.04L17.17 8.36L17.19 8.68L17.20 9.00L17.19 9.32L17.17 9.64L17.14 9.96L16.77 10.23L16.11 10.41L15.45 10.55L15.06 10.71L14.99 10.95L14.91 11.18L14.82 11.41L14.72 11.64L14.61 11.86L14.50 12.08L14.65 12.46L15.03 13.03L15.37 13.63L15.44 14.08L15.24 14.33L15.02 14.57L14.80 14.80L14.57 15.02L14.33 15.24L14.08 15.44L13.63 15.37L13.03 15.03L12.46 14.65L12.08 14.50L11.86 14.61L11.64 14.72L11.41 14.82L11.18 14.91L10.95 14.99L10.71 15.06L10.55 15.45L10.41 16.11L10.23 16.77L9.96 17.14L9.64 17.17L9.32 17.19L9.00 17.20L8.68 17.19L8.36 17.17L8.04 17.14L7.77 16.77L7.59 16.11L7.45 15.45L7.29 15.06L7.05 14.99L6.82 14.91L6.59 14.82L6.36 14.72L6.14 14.61L5.92 14.50L5.54 14.65L4.97 15.03L4.37 15.37L3.92 15.44L3.67 15.24L3.43 15.02L3.20 14.80L2.98 14.57L2.76 14.33L2.56 14.08L2.63 13.63L2.97 13.03L3.35 12.46L3.50 12.08L3.39 11.86L3.28 11.64L3.18 11.41L3.09 11.18L3.01 10.95L2.94 10.71L2.55 10.55L1.89 10.41L1.23 10.23L0.86 9.96L0.83 9.64L0.81 9.32L0.80 9.00L0.81 8.68L0.83 8.36L0.86 8.04L1.23 7.77L1.89 7.59L2.55 7.45L2.94 7.29L3.01 7.05L3.09 6.82L3.18 6.59L3.28 6.36L3.39 6.14L3.50 5.92L3.35 5.54L2.97 4.97L2.63 4.37L2.56 3.92L2.76 3.67L2.98 3.43L3.20 3.20L3.43 2.98L3.67 2.76L3.92 2.56L4.37 2.63L4.97 2.97L5.54 3.35L5.92 3.50L6.14 3.39L6.36 3.28L6.59 3.18L6.82 3.09L7.05 3.01L7.29 2.94L7.45 2.55L7.59 1.89L7.77 1.23L8.04 0.86L8.36 0.83L8.68 0.81Z" fill="none" stroke="#f1f1f6" stroke-width="1.5" stroke-linejoin="round"/><circle cx="9" cy="9" r="2.9" fill="none" stroke="#f1f1f6" stroke-width="1.5"/></g><g transform="translate(1118.6 822)"><path d="M11 1.7H5.4C2.8 1.7 1 3.4 1 6V12.1C1 14.7 2.8 16.4 5.4 16.4H11.2C13.8 16.4 15.4 14.7 15.4 12.1V6.6" fill="none" stroke="#4b4b68" stroke-width="1.7" stroke-linecap="round" stroke-linejoin="round"/><circle cx="14.3" cy="2.6" r="1.8" fill="none" stroke="#4b4b68" stroke-width="1.4"/><path d="M4.8 10.6L7.4 7.9L9.4 9.6L12 6.8" fill="none" stroke="#4b4b68" stroke-width="1.4" stroke-linecap="round" stroke-linejoin="round"/></g></svg>
</nav>
<aside id="sidebar">
<svg class="f" width="1200" height="900" viewBox="0 0 1200 900"><rect x="0" y="0" width="264" height="900" rx="0" fill="#1e1e2d"/></svg>
<div style="position:absolute;left:0px;top:378px;width:25px;height:55px;background:#2b2b40;border-radius:0 5px 5px 0;"></div>
<div style="position:absolute;left:0px;top:438.3px;width:25px;height:48.5px;background:#2b2b40;border-radius:0 5px 5px 0;"></div>
<svg class="f" width="1200" height="900" viewBox="0 0 1200 900"><rect x="33" y="26" width="30.3" height="30.8" rx="5" fill="#ffffff"/><g transform="translate(41 35.5)"><rect x="0.7" y="6.8" width="2.1" height="4.7" rx="0.9" fill="#2b2b3d"/><rect x="4.3" y="3.9" width="2.2" height="7.6" rx="0.9" fill="#33334a"/><rect x="7.9" y="1.3" width="2.2" height="10.2" rx="0.9" fill="#a3a6b8"/><rect x="11.4" y="5.3" width="2.2" height="6.2" rx="0.9" fill="#2b2b3d"/></g></svg>
<div class="t" style="left:132.30px;top:28px;line-height:14px;font-size:12px;color:#ffffff;transform:scaleX(0.9827);-webkit-text-stroke:0.65px;">Alice Page</div>
<div class="t" style="left:106.00px;top:45px;line-height:11px;font-size:10px;color:#565674;transform:scaleX(0.9760);-webkit-text-stroke:0.2px;">UI/UX Design Lean</div>
<svg class="f" width="1200" height="900" viewBox="0 0 1200 900"><g transform="translate(199.5 25.8)"><defs><clipPath id="av"><rect width="30.4" height="31.3" rx="4.8"/></clipPath><linearGradient id="avb" x1="0" x2="1" y1="0" y2="0"><stop offset="0" stop-color="#fbd35c"/><stop offset="1" stop-color="#f1c04b"/></linearGradient><linearGradient id="avh" x1="0" x2="1" y1="0" y2="0"><stop offset="0" stop-color="#c9a07c"/><stop offset="0.45" stop-color="#b08660"/><stop offset="1" stop-color="#84603f"/></linearGradient></defs><g clip-path="url(#av)"><rect width="30.4" height="31.3" fill="url(#avb)"/><path d="M4.6 26.5C6.5 20 7.2 14 9 9C10.5 4.6 12.8 3.2 15.3 3.2C18.2 3.2 20.6 4.8 21.6 8.6C22.8 13.5 23.6 20 25.2 26.5Z" fill="url(#avh)"/><path d="M11.5 13.5C11.5 9.8 13 8.2 15.2 8.2C17.4 8.2 19 9.8 19 13.5C19 17.5 17.3 22 15.3 22C13.2 22 11.5 17.5 11.5 13.5Z" fill="#dcb394"/><path d="M12.6 22.5H18V26H12.6Z" fill="#c79a7c"/><path d="M11.3 14.5C11.2 11 12.6 8.6 14.6 8.2C13.6 10 12.4 12 11.3 14.5Z" fill="#a57c58"/><path d="M19.2 15C19.4 11.2 18 8.7 16 8.2C17.4 10 18.4 12.4 19.2 15Z" fill="#7d5a3c"/><ellipse cx="13.4" cy="14.2" rx="1.1" ry="0.55" fill="#8a6a5e"/><ellipse cx="17.3" cy="14.2" rx="1.1" ry="0.55" fill="#8a6a5e"/><ellipse cx="15.4" cy="19.1" rx="1.1" ry="0.5" fill="#c4786e"/><path d="M0 29.5C1.5 26.8 5 25.8 9.5 25.2C12 24.8 13.5 25.6 15.3 25.6C17.2 25.6 19 24.6 21.5 25C25.5 25.6 28.8 26.8 30.4 29.5V31.3H0Z" fill="#e1e7f2"/><path d="M8.6 10C8 15 7.6 20.5 8.4 27L9.6 27C9.2 21 9.4 15 10.2 10.4Z" fill="#c8a283" opacity="0.9"/></g></g></svg>
<div class="t" style="left:91.70px;top:94px;line-height:15px;font-size:13.69px;color:#ffffff;-webkit-text-stroke:0.65px;">Recommended for you</div>
<div class="t" style="left:155.30px;top:112px;line-height:11px;font-size:10px;color:#474761;transform:scaleX(1.0193);-webkit-text-stroke:0.2px;">8k social visitors</div>
<svg class="f" width="1200" height="900" viewBox="0 0 1200 900"><rect x="154" y="132.7" width="76" height="26.3" rx="5" fill="#2b2b40"/></svg>
<div class="t" style="left:167.50px;top:141px;line-height:11px;font-size:10px;color:#7a7a92;transform:scaleX(0.9545);-webkit-text-stroke:0.2px;">All Courses</div>
<svg class="f" width="1200" height="900" viewBox="0 0 1200 900"><rect x="199.5" y="178.5" width="30.7" height="30.7" rx="5" fill="#f1416c"/></svg>
<div class="t" style="left:208.44px;top:186px;line-height:16px;font-size:14.4px;color:#fff;transform:scaleX(1.0600);-webkit-text-stroke:0.3px;">M</div>
<div class="t" style="left:121.30px;top:180px;line-height:12px;font-size:11.31px;color:#cdcdde;transform:scaleX(0.9934);-webkit-text-stroke:0.5px;">UI/UX Design</div>
<div class="t" style="left:131.70px;top:196px;line-height:11px;font-size:10.2px;color:#565674;transform:scaleX(0.9815);-webkit-text-stroke:0.2px;">Courses +40</div>
<svg class="f" width="1200" height="900" viewBox="0 0 1200 900"><rect x="33" y="182.1" width="23" height="23" rx="4" fill="#2b2b40"/><g transform="translate(39.5 188.6)"><path d="M1 5H8.6M5.4 1.6L8.8 5L5.4 8.4" fill="none" stroke="#50506c" stroke-width="1.15" stroke-linecap="round" stroke-linejoin="round"/></g><line x1="33" y1="219.45" x2="230" y2="219.45" stroke="#2b2b40" stroke-width="0.9" stroke-opacity="0.75" stroke-dasharray="1.75 1.72"/><rect x="199.5" y="229.35" width="30.7" height="30.7" rx="5" fill="#50cd89"/></svg>
<div class="t" style="left:208.97px;top:237px;line-height:16px;font-size:14.4px;color:#fff;transform:scaleX(1.0600);-webkit-text-stroke:0.3px;">Q</div>
<div class="t" style="left:128.00px;top:231px;line-height:12px;font-size:11.31px;color:#cdcdde;transform:scaleX(0.9858);-webkit-text-stroke:0.5px;">QA Analysis</div>
<div class="t" style="left:139.70px;top:247px;line-height:11px;font-size:10.2px;color:#565674;transform:scaleX(0.9403);-webkit-text-stroke:0.2px;">Courses 18</div>
<svg class="f" width="1200" height="900" viewBox="0 0 1200 900"><rect x="33" y="232.95" width="23" height="23" rx="4" fill="#2b2b40"/><g transform="translate(39.5 239.45)"><path d="M1 5H8.6M5.4 1.6L8.8 5L5.4 8.4" fill="none" stroke="#50506c" stroke-width="1.15" stroke-linecap="round" stroke-linejoin="round"/></g><line x1="33" y1="270.3" x2="230" y2="270.3" stroke="#2b2b40" stroke-width="0.9" stroke-opacity="0.75" stroke-dasharray="1.75 1.72"/><rect x="199.5" y="280.2" width="30.7" height="30.7" rx="5" fill="#7239ea"/></svg>
<div class="t" style="left:207.38px;top:288px;line-height:16px;font-size:14.4px;color:#fff;transform:scaleX(1.0600);-webkit-text-stroke:0.3px;">W</div>
<div class="t" style="left:95.80px;top:282px;line-height:12px;font-size:11.31px;color:#cdcdde;transform:scaleX(0.9959);-webkit-text-stroke:0.5px;">Web Development</div>
<div class="t" style="left:127.80px;top:298px;line-height:11px;font-size:10.2px;color:#565674;transform:scaleX(0.9556);-webkit-text-stroke:0.2px;">Courses +120</div>
<svg class="f" width="1200" height="900" viewBox="0 0 1200 900"><rect x="33" y="283.8" width="23" height="23" rx="4" fill="#2b2b40"/><g transform="translate(39.5 290.3)"><path d="M1 5H8.6M5.4 1.6L8.8 5L5.4 8.4" fill="none" stroke="#50506c" stroke-width="1.15" stroke-linecap="round" stroke-linejoin="round"/></g><line x1="33" y1="321.15" x2="230" y2="321.15" stroke="#2b2b40" stroke-width="0.9" stroke-opacity="0.75" stroke-dasharray="1.75 1.72"/><rect x="199.5" y="331.05" width="30.7" height="30.7" rx="5" fill="#3e97ff"/></svg>
<div class="t" style="left:208.44px;top:339px;line-height:16px;font-size:14.4px;color:#fff;transform:scaleX(1.0600);-webkit-text-stroke:0.3px;">M</div>
<div class="t" style="left:137.80px;top:333px;line-height:12px;font-size:11.31px;color:#cdcdde;transform:scaleX(1.0382);-webkit-text-stroke:0.5px;">Marketing</div>
<div class="t" style="left:129.50px;top:348px;line-height:11px;font-size:10.2px;color:#565674;transform:scaleX(0.9721);-webkit-text-stroke:0.2px;">.Courses +50</div>
<svg class="f" width="1200" height="900" viewBox="0 0 1200 900"><rect x="33" y="334.65" width="23" height="23" rx="4" fill="#2b2b40"/><g transform="translate(39.5 341.15)"><path d="M1 5H8.6M5.4 1.6L8.8 5L5.4 8.4" fill="none" stroke="#50506c" stroke-width="1.15" stroke-linecap="round" stroke-linejoin="round"/></g><line x1="33" y1="372" x2="230" y2="372" stroke="#2b2b40" stroke-width="0.9" stroke-opacity="0.75" stroke-dasharray="1.75 1.72"/><rect x="199.5" y="381.9" width="30.7" height="30.7" rx="5" fill="#ffc700"/></svg>
<div class="t" style="left:209.50px;top:390px;line-height:16px;font-size:14.4px;color:#fff;transform:scaleX(1.0600);-webkit-text-stroke:0.3px;">P</div>
<div class="t" style="left:133.00px;top:384px;line-height:12px;font-size:11.31px;color:#cdcdde;transform:scaleX(1.0069);-webkit-text-stroke:0.5px;">Philosophy</div>
<div class="t" style="left:132.00px;top:399px;line-height:11px;font-size:10.2px;color:#565674;transform:scaleX(0.9764);-webkit-text-stroke:0.2px;">Courses +24</div>
<svg class="f" width="1200" height="900" viewBox="0 0 1200 900"><rect x="33" y="385.5" width="23" height="23" rx="4" fill="#2b2b40"/><g transform="translate(39.5 392)"><path d="M1 5H8.6M5.4 1.6L8.8 5L5.4 8.4" fill="none" stroke="#50506c" stroke-width="1.15" stroke-linecap="round" stroke-linejoin="round"/></g><line x1="33" y1="422.85" x2="230" y2="422.85" stroke="#2b2b40" stroke-width="0.9" stroke-opacity="0.75" stroke-dasharray="1.75 1.72"/><rect x="199.5" y="432.75" width="30.7" height="30.7" rx="5" fill="#ffffff"/></svg>
<div class="t" style="left:208.44px;top:440px;line-height:16px;font-size:14.4px;color:#1e1e2d;transform:scaleX(1.0600);-webkit-text-stroke:0.3px;">M</div>
<div class="t" style="left:122.80px;top:434px;line-height:12px;font-size:11.31px;color:#cdcdde;transform:scaleX(1.0282);-webkit-text-stroke:0.5px;">Mathematics</div>
<div class="t" style="left:132.00px;top:450px;line-height:11px;font-size:10.2px;color:#565674;transform:scaleX(0.9764);-webkit-text-stroke:0.2px;">Courses +24</div>
<svg class="f" width="1200" height="900" viewBox="0 0 1200 900"><rect x="33" y="436.35" width="23" height="23" rx="4" fill="#2b2b40"/><g transform="translate(39.5 442.85)"><path d="M1 5H8.6M5.4 1.6L8.8 5L5.4 8.4" fill="none" stroke="#50506c" stroke-width="1.15" stroke-linecap="round" stroke-linejoin="round"/></g></svg>
<div class="t" style="left:-3.8px;top:402.2px;width:32px;text-align:center;font-size:10.9px;color:#6d6d80;-webkit-text-stroke:0.2px;transform-origin:50% 50%;transform:rotate(-90deg) scaleX(1.03)">Demos</div>
<div class="t" style="left:-3.8px;top:457.1px;width:32px;text-align:center;font-size:10.9px;color:#6d6d80;-webkit-text-stroke:0.2px;transform-origin:50% 50%;transform:rotate(-90deg) scaleX(1.08)">Help</div>
<div class="t" style="left:144.50px;top:509px;line-height:15px;font-size:13.69px;color:#cdcdde;transform:scaleX(0.9956);-webkit-text-stroke:0.65px;">Lading Teams</div>
<div class="t" style="left:145.50px;top:527px;line-height:12px;font-size:11px;color:#474761;transform:scaleX(1.0425);-webkit-text-stroke:0.2px;">8k social visitors</div>
<svg class="f" width="1200" height="900" viewBox="0 0 1200 900"><rect x="33" y="571.3" width="42.8" height="18" rx="4" fill="#1c3238"/></svg>
<div class="t" style="left:38.30px;top:575px;line-height:11px;font-size:10.4px;color:#50cd89;transform:scaleX(0.9810);-webkit-text-stroke:0.5px;">2.6%</div>
<svg class="f" width="1200" height="900" viewBox="0 0 1200 900"><g transform="translate(63.8 576.5)"><g ><path d="M3.5 7.1V0.9M0.7 3.6L3.5 0.8L6.3 3.6" fill="none" stroke="#50cd89" stroke-width="1.15" stroke-linecap="round" stroke-linejoin="round"/></g></g></svg>
<div class="t" style="left:83.30px;top:573px;line-height:15px;font-size:12.8px;color:#cdcdde;transform:scaleX(1.0361);-webkit-text-stroke:0.65px;">579</div>
<div class="t" style="left:149.70px;top:559px;line-height:12px;font-size:11.31px;color:#cdcdde;transform:scaleX(1.0527);-webkit-text-stroke:0.5px;">Abstergo</div>
<div class="t" style="left:176.71px;top:575px;line-height:12px;font-size:11.31px;color:#cdcdde;transform:scaleX(1.0934);-webkit-text-stroke:0.5px;">.Ltd</div>
<div class="t" style="left:145.80px;top:591px;line-height:11px;font-size:10.2px;color:#474761;transform:scaleX(0.9767);-webkit-text-stroke:0.2px;">Community</div>
<svg class="f" width="1200" height="900" viewBox="0 0 1200 900"><g transform="translate(207 568.7)"><g transform="matrix(1 -0.2 0 1 0 0)"><rect x="3.9" y="9.2" width="19.1" height="14.4" rx="2.6" fill="#ffad33"/><rect x="0.1" y="4.2" width="18.9" height="14" rx="2.6" fill="#5f46c9"/><text x="4.4" y="16.6" font-family="Liberation Sans, sans-serif" font-size="5.6" font-weight="700" font-style="italic" fill="#e9f3ff" textLength="12.6" lengthAdjust="spacingAndGlyphs">clica</text></g></g><rect x="33" y="640.2" width="43" height="18" rx="4" fill="#3a2434"/></svg>
<div class="t" style="left:38.30px;top:644px;line-height:11px;font-size:10.4px;color:#f1416c;transform:scaleX(1.0109);-webkit-text-stroke:0.5px;">0.4%</div>
<svg class="f" width="1200" height="900" viewBox="0 0 1200 900"><g transform="translate(64.5 645.4)"><g transform="rotate(180 3.5 3.75)"><path d="M3.5 7.1V0.9M0.7 3.6L3.5 0.8L6.3 3.6" fill="none" stroke="#f1416c" stroke-width="1.15" stroke-linecap="round" stroke-linejoin="round"/></g></g></svg>
<div class="t" style="left:83.50px;top:642px;line-height:15px;font-size:12.8px;color:#cdcdde;transform:scaleX(1.0813);-webkit-text-stroke:0.65px;">2,588</div>
<div class="t" style="left:160.30px;top:621px;line-height:12px;font-size:11.31px;color:#cdcdde;transform:scaleX(1.0335);-webkit-text-stroke:0.5px;">Binford</div>
<div class="t" style="left:176.71px;top:636px;line-height:12px;font-size:11.31px;color:#cdcdde;transform:scaleX(1.0934);-webkit-text-stroke:0.5px;">.Ltd</div>
<div class="t" style="left:170.30px;top:653px;line-height:11px;font-size:10.2px;color:#474761;transform:scaleX(0.9715);-webkit-text-stroke:0.2px;">Social</div>
<div class="t" style="left:169.70px;top:667px;line-height:11px;font-size:10.2px;color:#474761;transform:scaleX(0.9722);-webkit-text-stroke:0.2px;">Media</div>
<svg class="f" width="1200" height="900" viewBox="0 0 1200 900"><g transform="translate(207 638)"><path d="M-0.1 10.4L22.8 0L19 22.2L11.7 18L7.2 22L5.4 13.8Z" fill="#20d2f8"/><path d="M5.4 13.8L22.8 0L9.2 15.6L7.2 22Z" fill="#17b6ee"/><path d="M9.2 15.6L11.7 18L7.2 22Z" fill="#0f9fe2"/></g><rect x="33" y="701.2" width="42.8" height="18" rx="4" fill="#1c3238"/></svg>
<div class="t" style="left:38.30px;top:705px;line-height:11px;font-size:10.4px;color:#50cd89;transform:scaleX(0.9810);-webkit-text-stroke:0.5px;">0.2%</div>
<svg class="f" width="1200" height="900" viewBox="0 0 1200 900"><g transform="translate(63.8 706.4)"><g ><path d="M3.5 7.1V0.9M0.7 3.6L3.5 0.8L6.3 3.6" fill="none" stroke="#50cd89" stroke-width="1.15" stroke-linecap="round" stroke-linejoin="round"/></g></g></svg>
<div class="t" style="left:83.30px;top:703px;line-height:15px;font-size:12.8px;color:#cdcdde;transform:scaleX(1.0596);-webkit-text-stroke:0.65px;">794</div>
<div class="t" style="left:134.82px;top:696px;line-height:12px;font-size:11.31px;color:#cdcdde;transform:scaleX(0.9828);-webkit-text-stroke:0.5px;">.Barone LLC</div>
<div class="t" style="left:147.50px;top:712px;line-height:11px;font-size:10.2px;color:#474761;transform:scaleX(0.9705);-webkit-text-stroke:0.2px;">Messanger</div>
<svg class="f" width="1200" height="900" viewBox="0 0 1200 900"><g transform="translate(207 698.7)"><defs><clipPath id="bl"><circle cx="15" cy="8" r="8.2"/></clipPath></defs><g clip-path="url(#bl)"><rect x="6" y="-1" width="18" height="18" fill="#f1346b"/><path d="M19.2 -1H24V17H14.6Z" fill="#ee1b72"/><path d="M13.7 -0.5L17.4 -0.5L13.2 17H9.6Z" fill="#ffa826"/><path d="M17.2 -0.5L19.6 0L16.2 17H13Z" fill="#ff8a25"/></g><path d="M8.6 13.2L9.8 16.6M11.8 15.2L11 17.4M15.3 16.2L13.6 17.8" stroke="#e6e8f2" stroke-width="1" fill="none"/><path d="M7.4 16.2L13.6 18L12.4 22.6L6.2 20.6Z" fill="#4f5268"/><path d="M7.4 16.2L10.5 17.1L9.3 21.6L6.2 20.6Z" fill="#62657d"/><path d="M0.4 4.6H5.6C6.8 4.6 6.8 2.6 5.2 2.4M0.3 7.7H3.8M1.6 10.2H4.8" stroke="#dfe2ef" stroke-width="1.15" stroke-linecap="round" fill="none"/><path d="M15.3 19.3H17.6M16.4 21.9H21.4C23 21.9 23.2 19.8 21.4 19.5" stroke="#cfe4fa" stroke-width="1.15" stroke-linecap="round" fill="none"/></g><rect x="33" y="762.1" width="40.7" height="18" rx="4" fill="#1c3238"/></svg>
<div class="t" style="left:38.30px;top:766px;line-height:11px;font-size:10.4px;color:#50cd89;transform:scaleX(0.8957);-webkit-text-stroke:0.5px;">4.1%</div>
<svg class="f" width="1200" height="900" viewBox="0 0 1200 900"><g transform="translate(61.7 767.3)"><g ><path d="M3.5 7.1V0.9M0.7 3.6L3.5 0.8L6.3 3.6" fill="none" stroke="#50cd89" stroke-width="1.15" stroke-linecap="round" stroke-linejoin="round"/></g></g></svg>
<div class="t" style="left:81.20px;top:763px;line-height:15px;font-size:12.8px;color:#cdcdde;transform:scaleX(0.9716);-webkit-text-stroke:0.65px;">1,578</div>
<div class="t" style="left:149.70px;top:743px;line-height:12px;font-size:11.31px;color:#cdcdde;transform:scaleX(1.0527);-webkit-text-stroke:0.5px;">Abstergo</div>
<div class="t" style="left:176.71px;top:758px;line-height:12px;font-size:11.31px;color:#cdcdde;transform:scaleX(1.0934);-webkit-text-stroke:0.5px;">.Ltd</div>
<div class="t" style="left:171.70px;top:774px;line-height:11px;font-size:10.2px;color:#474761;transform:scaleX(0.9654);-webkit-text-stroke:0.2px;">Video</div>
<div class="t" style="left:160.50px;top:789px;line-height:11px;font-size:10.2px;color:#474761;transform:scaleX(0.9685);-webkit-text-stroke:0.2px;">Channel</div>
<svg class="f" width="1200" height="900" viewBox="0 0 1200 900"><g transform="translate(207 759.7)"><path d="M17.2 4.3L12.4 11.7L17.2 19.2" stroke="#5bc982" stroke-width="8" stroke-linecap="round" stroke-linejoin="round" fill="none"/><path d="M6 4.2V19.3" stroke="#7ee87b" stroke-width="8.2" stroke-linecap="round" fill="none"/></g><rect x="28.7" y="837.7" width="40.3" height="18" rx="4" fill="#1c3238"/></svg>
<div class="t" style="left:33.20px;top:842px;line-height:11px;font-size:10.4px;color:#50cd89;transform:scaleX(0.9725);-webkit-text-stroke:0.5px;">8.3%</div>
<svg class="f" width="1200" height="900" viewBox="0 0 1200 900"><g transform="translate(58 842.9)"><g ><path d="M3.5 7.1V0.9M0.7 3.6L3.5 0.8L6.3 3.6" fill="none" stroke="#50cd89" stroke-width="1.15" stroke-linecap="round" stroke-linejoin="round"/></g></g></svg>
<div class="t" style="left:76.00px;top:839px;line-height:15px;font-size:12.8px;color:#cdcdde;transform:scaleX(1.0656);-webkit-text-stroke:0.65px;">2,047</div>
<div class="t" style="left:167.00px;top:818px;line-height:12px;font-size:11.31px;color:#cdcdde;transform:scaleX(1.0805);-webkit-text-stroke:0.5px;">Biffco</div>
<div class="t" style="left:138.70px;top:834px;line-height:12px;font-size:11.31px;color:#cdcdde;transform:scaleX(1.0141);-webkit-text-stroke:0.5px;">Enterprises</div>
<div class="t" style="left:170.40px;top:850px;line-height:11px;font-size:10.2px;color:#474761;transform:scaleX(0.9678);-webkit-text-stroke:0.2px;">Social</div>
<div class="t" style="left:159.30px;top:864px;line-height:11px;font-size:10.2px;color:#474761;transform:scaleX(0.9851);-webkit-text-stroke:0.2px;">Network</div>
<svg class="f" width="1200" height="900" viewBox="0 0 1200 900"><g transform="translate(207 835)"><defs><clipPath id="vr"><rect x="12.6" y="0" width="12" height="23"/></clipPath></defs><path d="M-0.1 7.3C1.8 5 4 2.4 6.3 2.1C8.4 1.9 9.3 3.6 9.8 6C10.4 9 11.2 13.6 12.3 14C13.2 14.2 14.6 11.8 15.4 10C16.2 8.2 15.6 6.6 13.4 7.3C14.2 4.2 16.4 1.5 19.2 1.3C22 1.2 23.6 2.6 23.2 5.4C22.6 9.2 18.8 14.8 15.6 18.2C13.6 20.4 11.6 21.9 9.9 21.9C8 21.9 7 19.8 6.3 16.9C5.4 13.4 4.8 9.6 3.6 8.7C2.8 8.2 1.8 8.6 1 9.1Z" fill="#66a8ff"/><path d="M-0.1 7.3C1.8 5 4 2.4 6.3 2.1C8.4 1.9 9.3 3.6 9.8 6C10.4 9 11.2 13.6 12.3 14C13.2 14.2 14.6 11.8 15.4 10C16.2 8.2 15.6 6.6 13.4 7.3C14.2 4.2 16.4 1.5 19.2 1.3C22 1.2 23.6 2.6 23.2 5.4C22.6 9.2 18.8 14.8 15.6 18.2C13.6 20.4 11.6 21.9 9.9 21.9C8 21.9 7 19.8 6.3 16.9C5.4 13.4 4.8 9.6 3.6 8.7C2.8 8.2 1.8 8.6 1 9.1Z" fill="#2f88ff" clip-path="url(#vr)"/></g><line x1="33" y1="611.7" x2="230" y2="611.7" stroke="#2b2b40" stroke-width="0.9" stroke-opacity="0.75" stroke-dasharray="1.75 1.72"/><line x1="33" y1="687.5" x2="230" y2="687.5" stroke="#2b2b40" stroke-width="0.9" stroke-opacity="0.75" stroke-dasharray="1.75 1.72"/><line x1="33" y1="733.3" x2="230" y2="733.3" stroke="#2b2b40" stroke-width="0.9" stroke-opacity="0.75" stroke-dasharray="1.75 1.72"/><line x1="33" y1="809.2" x2="230" y2="809.2" stroke="#2b2b40" stroke-width="0.9" stroke-opacity="0.75" stroke-dasharray="1.75 1.72"/><rect x="36" y="840" width="105" height="32.3" rx="5" fill="#ffffff"/></svg>
<div class="t" style="left:52.40px;top:850px;line-height:12px;font-size:11px;color:#3f4254;transform:scaleX(1.0532);-webkit-text-stroke:0.01px;">Customize</div>
<svg class="f" width="1200" height="900" viewBox="0 0 1200 900"><g transform="translate(114.3 851)"><g fill="none" stroke="#5e6278" stroke-width="0.9" stroke-linecap="round"><path d="M0.5 1.7H9.5M0.5 5H9.5M0.5 8.3H9.5"/><circle cx="3.4" cy="1.7" r="1.1" fill="#fff"/><circle cx="6.6" cy="5" r="1.1" fill="#fff"/><circle cx="3.4" cy="8.3" r="1.1" fill="#fff"/></g></g></svg>
</aside>
</body></html>
